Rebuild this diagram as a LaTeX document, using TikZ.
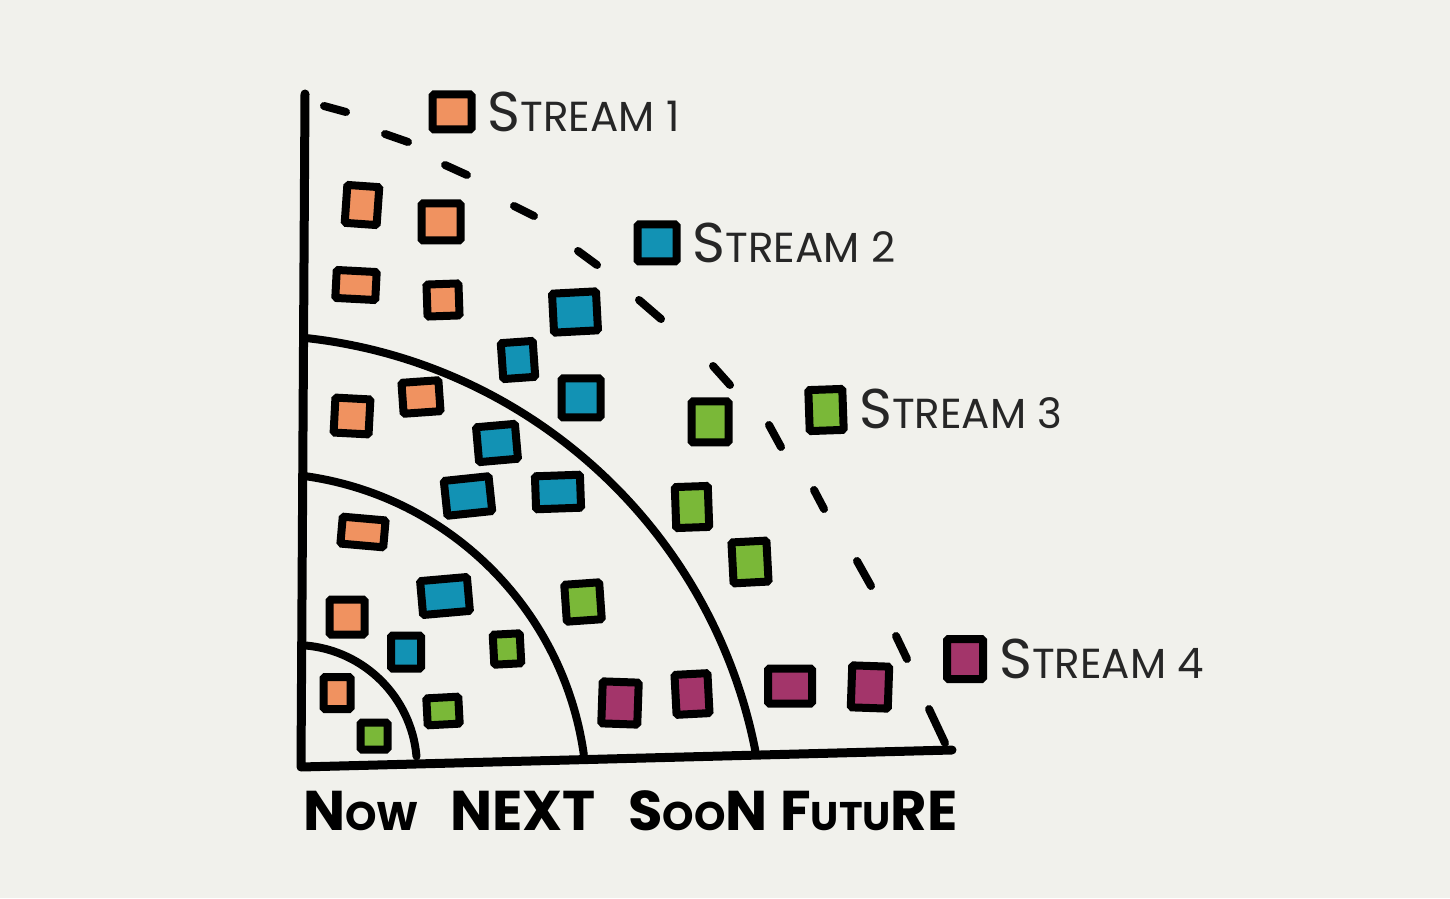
\documentclass[tikz,border=0pt]{standalone}
\usepackage{fontspec}
\setmainfont{Poppins}
\usetikzlibrary{positioning}
\definecolor{paper}{HTML}{F1F1EC}
\definecolor{sorange}{HTML}{F09260}
\definecolor{sblue}{HTML}{1292B4}
\definecolor{sgreen}{HTML}{7AB838}
\definecolor{smagenta}{HTML}{A3356A}
\definecolor{ink}{HTML}{262626}
\newcommand{\bigS}[1]{{\fontsize{56}{60}\selectfont #1}}
\newcommand{\lo}[1]{{\fontsize{40}{44}\selectfont #1}}

\begin{document}
\begin{tikzpicture}[x=1pt,y=1pt,
  sq/.style={draw=black,line width=8pt,fill=#1,inner sep=0pt,rounded corners=1.5pt},
  axis/.style={line width=9pt,line cap=round,line join=round},
  ring/.style={line width=8pt,line cap=round},
  dashseg/.style={line width=8pt,line cap=round},
  lbl/.style={text=ink,font=\fontsize{42}{46}\selectfont,inner sep=0pt},
  tag/.style={font=\fontsize{56}{60}\selectfont\bfseries,anchor=base west,inner sep=0pt}]
  \fill[paper] (0,0) rectangle (1450,898);
  \useasboundingbox (0,0) rectangle (1450,898);

  % axes
  \coordinate (ytop) at (305,804);
  \coordinate (origin) at (301,131);
  \coordinate (xend) at (952,148);
  \draw[axis] (ytop) -- (origin) -- (xend);

  % now / next / soon rings
  \coordinate (r1) at (305.6,252.5);
  \coordinate (r2) at (305.5,421.8);
  \coordinate (r3) at (303.8,560.2);
  \draw[ring] (r1) arc[start angle=85,end angle=5,radius=122];
  \draw[ring] (r2) arc[start angle=82,end angle=8,radius=327];
  \draw[ring] (r3) arc[start angle=84,end angle=11,radius=515];

  % future, dashed
  \foreach \xa/\ya/\xb/\yb in {324/792/346/786, 385/764/408/756, 445/733/467/723,
      514/692/534/682, 578/647/597/633, 639/598/661/579, 713/532/730/513,
      769/473/781/451, 814/408/824/389, 857/337/871/312, 896/262/907/239, 929/189/945/155}
    \draw[dashseg] (\xa,\ya) -- (\xb,\yb);

  % stream 1
  \foreach \n/\x/\y/\w/\h/\r in {1/452/786/39/35/0, 2/362/693/32/38/-4, 3/441/676/39/37/0,
      4/356/613/40/28/-3, 5/443/598/32/32/2, 6/352/482/35/35/-3, 7/421/501/37/31/4,
      8/363/366/43/27/-5, 9/347/281/35/35/0, 10/337/205/27/32/0}
    \node[sq=sorange,minimum width=\w,minimum height=\h,rotate=\r] (o\n) at (\x,\y) {};
  % stream 2
  \foreach \n/\x/\y/\w/\h/\r in {1/657/655/39/37/0, 2/575/586/44/39/3, 3/518/538/32/36/4,
      4/581/500/39/39/0, 5/497/455/39/35/5, 6/468/402/45/35/6, 7/558/406/45/33/2,
      8/445/302/47/34/5, 9/406/246/30/33/0}
    \node[sq=sblue,minimum width=\w,minimum height=\h,rotate=\r] (b\n) at (\x,\y) {};
  % stream 3
  \foreach \n/\x/\y/\w/\h/\r in {1/826/488/34/41/2, 2/710/476/37/41/0, 3/692/391/33/41/2,
      4/750/336/35/41/3, 5/583/296/35/37/4, 6/507/249/27/30/3, 7/443/187/32/27/3,
      8/374/162/27/27/0}
    \node[sq=sgreen,minimum width=\w,minimum height=\h,rotate=\r] (g\n) at (\x,\y) {};
  % stream 4
  \foreach \n/\x/\y/\w/\h/\r in {1/965/239/36/40/0, 2/620/195/36/42/-2, 3/692/204/33/40/3,
      4/790/212/44/35/0, 5/870/211/37/42/-2}
    \node[sq=smagenta,minimum width=\w,minimum height=\h,rotate=\r] (m\n) at (\x,\y) {};

  \node[lbl,right=12pt of o1] (s1) {\bigS{S}TREAM 1};
  \node[lbl,right=12pt of b1] (s2) {\bigS{S}TREAM 2};
  \node[lbl,right=12pt of g1] (s3) {\bigS{S}TREAM 3};
  \node[lbl,right=12pt of m1] (s4) {\bigS{S}TREAM 4};

  \node[tag] (now) at (303,68) {N\lo{OW}};
  \node[tag] (next) at (450,68) {NEXT};
  \node[tag] (soon) at (628,68) {S\lo{OO}N};
  \node[tag] (future) at (780,68) {F\lo{UTU}RE};
\end{tikzpicture}
\end{document}
